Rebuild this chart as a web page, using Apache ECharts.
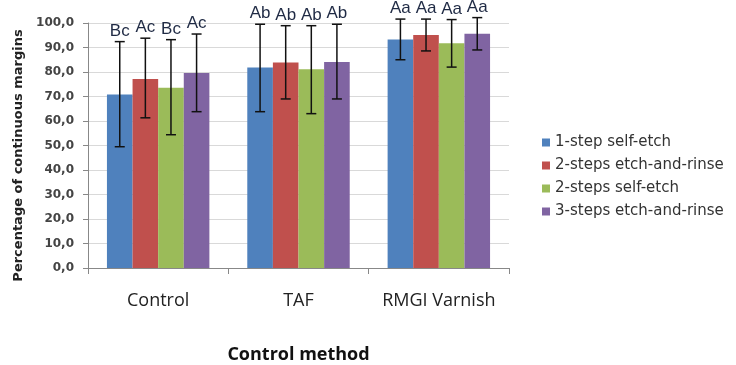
<!DOCTYPE html>
<html>
<head>
<meta charset="utf-8">
<script src="https://cdn.jsdelivr.net/npm/echarts@6/dist/echarts.min.js"></script>
<style>
  html, body { margin: 0; padding: 0; background: #fff; }
  #chart { width: 736px; height: 365px; }
</style>
</head>
<body>
<div id="chart"></div>
<script>
// data
var categories = ["Control", "TAF", "RMGI Varnish"];
var seriesNames = ["1-step self-etch", "2-steps etch-and-rinse", "2-steps self-etch", "3-steps etch-and-rinse"];
var colors = ["#4f81bd", "#c0504d", "#9bbb59", "#8064a2"];

var means = [
  [70.8, 81.8, 93.3],
  [77.1, 83.9, 95.1],
  [73.6, 81.1, 91.7],
  [79.6, 84.1, 95.6]
];
var errLow = [
  [49.5, 63.8, 85.0],
  [61.3, 69.0, 88.6],
  [54.4, 63.0, 82.0],
  [63.8, 69.0, 89.0]
];
var errHigh = [
  [92.4, 99.5, 101.6],
  [93.8, 98.9, 101.6],
  [93.2, 98.9, 101.4],
  [95.5, 99.5, 102.2]
];
var letters = [
  ["Bc", "Ab", "Aa"],
  ["Ac", "Ab", "Aa"],
  ["Bc", "Ab", "Aa"],
  ["Ac", "Ab", "Aa"]
];

var yTicks = { min: 0, max: 100, interval: 10 };
var gapPct = 0.27;

var chart = echarts.init(document.getElementById("chart"));

function errRender(si) {
  return function (params, api) {
    var ci = api.value(0);
    var band = api.size([1, 0])[0];
    var barW = band * (1 - gapPct) / 4;
    var x = api.coord([ci, 0])[0] + (si - 1.5) * barW;
    var yTop = api.coord([ci, api.value(2)])[1];
    var yBot = api.coord([ci, api.value(1)])[1];
    var cap = 5;
    var st = { stroke: "#111", lineWidth: 1.5 };
    return {
      type: "group",
      children: [
        { type: "line", shape: { x1: x, y1: yTop, x2: x, y2: yBot }, style: st },
        { type: "line", shape: { x1: x - cap, y1: yTop, x2: x + cap, y2: yTop }, style: st },
        { type: "line", shape: { x1: x - cap, y1: yBot, x2: x + cap, y2: yBot }, style: st },
        {
          type: "text",
          x: x,
          y: yTop - 2,
          style: {
            text: letters[si][ci],
            fill: "#1f2a44",
            font: "17px 'Liberation Sans', Arial, sans-serif",
            align: "center",
            verticalAlign: "bottom"
          }
        }
      ]
    };
  };
}

var series = [];
seriesNames.forEach(function (name, i) {
  series.push({
    name: name,
    type: "bar",
    data: means[i],
    barGap: "0%",
    barCategoryGap: gapPct * 100 + "%",
    itemStyle: { color: colors[i] },
    z: 2
  });
});
seriesNames.forEach(function (name, i) {
  series.push({
    type: "custom",
    renderItem: errRender(i),
    data: categories.map(function (c, ci) {
      return [ci, errLow[i][ci], errHigh[i][ci]];
    }),
    clip: false,
    silent: true,
    z: 5
  });
});

var option = {
  animation: false,
  backgroundColor: "#fff",
  grid: { left: 88, right: 227, top: 23, bottom: 97, outerBoundsMode: "none" },
  legend: {
    data: seriesNames,
    orient: "vertical",
    left: 537,
    top: 130,
    itemWidth: 8,
    itemHeight: 8,
    itemGap: 8,
    icon: "rect",
    textStyle: { color: "#333", fontSize: 15, fontFamily: "'DejaVu Sans', sans-serif" }
  },
  xAxis: {
    type: "category",
    data: categories,
    name: "Control method",
    nameLocation: "middle",
    nameGap: 78,
    nameTextStyle: { fontSize: 18, fontWeight: "bold", color: "#111", fontFamily: "'Open Sans', sans-serif" },
    axisLine: { lineStyle: { color: "#888" } },
    axisTick: { show: true, length: 6, lineStyle: { color: "#888" } },
    axisLabel: { interval: 0, margin: 24, fontSize: 18, color: "#222", fontFamily: "'Open Sans', sans-serif" }
  },
  yAxis: {
    type: "value",
    min: yTicks.min,
    max: yTicks.max,
    interval: yTicks.interval,
    name: "Percentage of continuous margins",
    nameLocation: "middle",
    nameGap: 63,
    nameTextStyle: { fontSize: 13, fontWeight: "bold", color: "#222", fontFamily: "'DejaVu Sans', sans-serif", padding: [0, 20, 0, 0] },
    axisLine: { show: true, lineStyle: { color: "#888" } },
    axisTick: { show: true, length: 5, lineStyle: { color: "#888" } },
    splitLine: { lineStyle: { color: "#d9d9d9" } },
    axisLabel: {
      fontSize: 12,
      fontWeight: "bold",
      color: "#444",
      margin: 14,
      fontFamily: "'DejaVu Sans', sans-serif",
      formatter: function (v) { return v.toFixed(1).replace(".", ","); }
    }
  },
  series: series
};

chart.setOption(option);
</script>
</body>
</html>
